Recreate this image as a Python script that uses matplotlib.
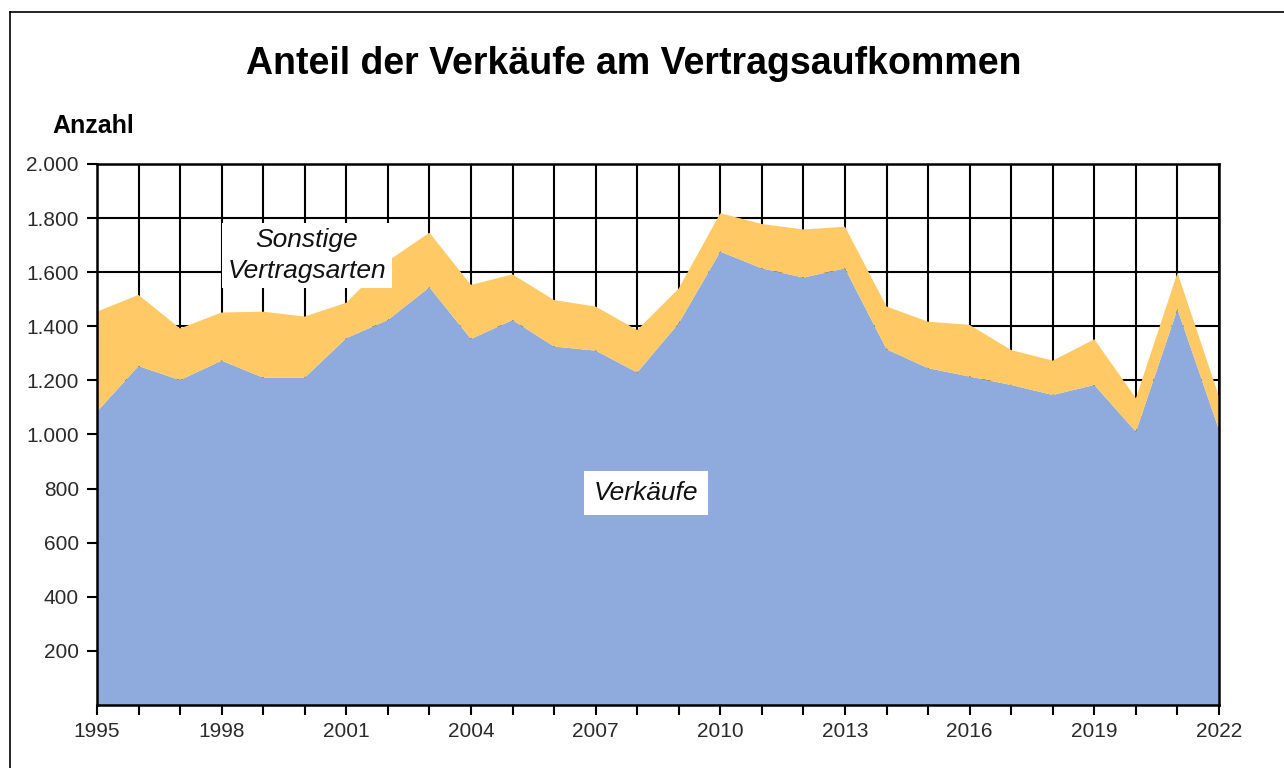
import matplotlib
matplotlib.use('Agg')
import matplotlib.pyplot as plt
from matplotlib.lines import Line2D

plt.rcParams['font.family'] = ['Liberation Sans', 'DejaVu Sans']

# Daten
jahre = list(range(1995, 2023))
verkaeufe = [1084, 1253, 1201, 1273, 1210, 1210, 1356, 1423, 1544, 1353,
             1423, 1325, 1310, 1229, 1411, 1676, 1614, 1580, 1614, 1315,
             1245, 1214, 1183, 1146, 1183, 1010, 1463, 1017]
sonstige = [370, 263, 191, 178, 244, 226, 131, 218, 202, 200,
            169, 172, 163, 157, 129, 142, 164, 178, 154, 158,
            172, 191, 129, 127, 169, 124, 135, 123]
y_ticks = [200, 400, 600, 800, 1000, 1200, 1400, 1600, 1800, 2000]
y_labels = ['200', '400', '600', '800', '1.000', '1.200', '1.400', '1.600', '1.800', '2.000']

fig = plt.figure(figsize=(12.84, 7.68), dpi=100)
ax = fig.add_axes([0.0755, 0.082, 0.8739, 0.7045])

ax.stackplot(jahre, verkaeufe, sonstige, colors=['#8FAADC', '#FFC966'], zorder=2)

ax.set_xlim(1995, 2022)
ax.set_ylim(0, 2000)

ax.set_xticks(jahre)
ax.set_xticklabels([str(j) if (j - 1995) % 3 == 0 else '' for j in jahre])
ax.set_yticks(y_ticks)
ax.set_yticklabels(y_labels)
ax.tick_params(axis='both', direction='out', length=7, width=1.5, color='black',
               labelsize=15, labelcolor='#2a2a2a')
ax.tick_params(axis='x', pad=5)
ax.tick_params(axis='y', pad=6)

ax.grid(True, color='black', linewidth=1.5, zorder=1)
ax.set_axisbelow(True)
for s in ax.spines.values():
    s.set_linewidth(1.8)
    s.set_zorder(4)

ax.text(2000.05, 1662, 'Sonstige\nVertragsarten', ha='center', va='center',
        fontsize=19, style='italic', color='#111111', linespacing=1.35, zorder=5,
        bbox=dict(facecolor='white', edgecolor='none', pad=4))
ax.text(2008.2, 784, 'Verkäufe', ha='center', va='center',
        fontsize=19, style='italic', color='#111111', zorder=5,
        bbox=dict(facecolor='white', edgecolor='none', pad=7))

fig.text(0.4938, 0.9036, 'Anteil der Verkäufe am Vertragsaufkommen', ha='center',
         va='baseline', fontsize=27, fontweight='bold')
fig.text(0.0405, 0.8268, 'Anzahl', ha='left', va='baseline', fontsize=18,
         fontweight='bold')

# Rahmen um die Grafik
fig.add_artist(Line2D([10 / 1284, 10 / 1284], [0, 1 - 12 / 768], color='black', lw=1.2,
                      transform=fig.transFigure))
fig.add_artist(Line2D([10 / 1284, 1], [1 - 12 / 768, 1 - 12 / 768], color='black', lw=1.2,
                      transform=fig.transFigure))

fig.savefig('out.png', dpi=100)
